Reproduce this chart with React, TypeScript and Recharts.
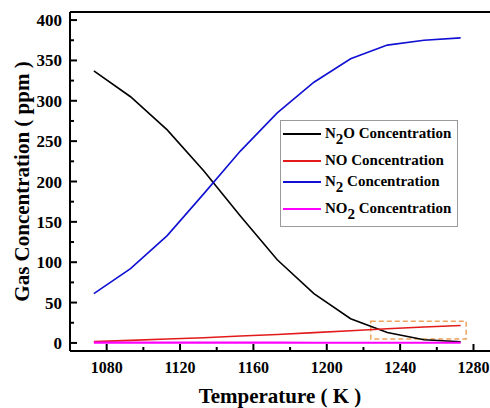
import React from 'react';
import { LineChart, Line, XAxis, YAxis, Legend, ReferenceArea, ReferenceLine } from 'recharts';

// Temperatures (K) and gas concentrations (ppm)
const temperatures = [1073, 1093, 1113, 1133, 1153, 1173, 1193, 1213, 1233, 1253, 1273];
const n2oValues = [337, 305, 264, 213, 157, 103, 61, 30, 13, 4, 1.5];
const noValues = [1.6, 3.2, 4.8, 6.5, 8.5, 10.5, 12.8, 15, 17.5, 19.8, 21.5];
const n2Values = [61, 92, 133, 185, 238, 285, 323, 352, 369, 375, 378];
const no2Values = [0.5, 0.4, 0.4, 0.3, 0.3, 0.3, 0.2, 0.2, 0.2, 0.2, 0.2];

const xTicks = [1060, 1080, 1100, 1120, 1140, 1160, 1180, 1200, 1220, 1240, 1260, 1280];
const yTicks = [0, 25, 50, 75, 100, 125, 150, 175, 200, 225, 250, 275, 300, 325, 350, 375, 400];

const series = [
  { key: 'n2o', name: 'N2O Concentration', color: '#000000', pre: 'N', sub: '2', post: 'O Concentration' },
  { key: 'no', name: 'NO Concentration', color: '#e31a1a', pre: 'NO Concentration', sub: '', post: '' },
  { key: 'n2', name: 'N2 Concentration', color: '#1010d4', pre: 'N', sub: '2', post: ' Concentration' },
  { key: 'no2', name: 'NO2 Concentration', color: '#ff00ff', pre: 'NO', sub: '2', post: ' Concentration' },
];

const data = temperatures.map((t, i) => ({
  t,
  n2o: n2oValues[i],
  no: noValues[i],
  n2: n2Values[i],
  no2: no2Values[i],
}));

const FONT = 'Liberation Serif';

const XTick = (props: any) => {
  const { x, y, payload } = props;
  const major = payload.value % 40 === 0;
  return (
    <g>
      <line x1={x} x2={x} y1={y} y2={y - (major ? 7 : 4)} stroke="#000" strokeWidth={2} />
      {major && (
        <text x={x} y={y + 22} textAnchor="middle" style={{ fontFamily: FONT, fontWeight: 'bold', fontSize: 16 }} fill="#000">
          {payload.value}
        </text>
      )}
    </g>
  );
};

const YTick = (props: any) => {
  const { x, y, payload } = props;
  const major = payload.value % 50 === 0;
  return (
    <g>
      <line x1={x} x2={x + (major ? 7 : 4)} y1={y} y2={y} stroke="#000" strokeWidth={2} />
      {major && (
        <text x={x - 8} y={y + 6} textAnchor="end" style={{ fontFamily: FONT, fontWeight: 'bold', fontSize: 17 }} fill="#000">
          {payload.value}
        </text>
      )}
    </g>
  );
};

const LegendBox = (props: any) => {
  const payload = props.payload || [];
  return (
    <div style={{ border: '1px solid #9a9a9a', background: '#fff', padding: '2px 6px 1px 2px', fontFamily: FONT, fontWeight: 'bold', fontSize: 15, color: '#000' }}>
      {series.map((s) => {
        const entry = payload.find((p: any) => p.dataKey === s.key);
        return (
          <div key={s.key} style={{ display: 'flex', alignItems: 'flex-start', height: s.sub ? 27 : 21 }}>
            <div style={{ height: 21, display: 'flex', alignItems: 'center' }}>
              <svg width={40} height={4} style={{ display: 'block' }}>
                <line x1={0} x2={38} y1={2} y2={2} stroke={entry ? entry.color : s.color} strokeWidth={2.2} />
              </svg>
            </div>
            <div style={{ lineHeight: '21px', whiteSpace: 'nowrap', marginLeft: 2, fontFamily: FONT }}>
              {s.pre}
              {s.sub && <span style={{ position: 'relative', top: 6 }}>{s.sub}</span>}
              {s.post}
            </div>
          </div>
        );
      })}
    </div>
  );
};

export default function App() {
  return (
    <div style={{ position: 'absolute', left: 0, top: 0, background: '#fff', fontFamily: FONT }}>
      <LineChart width={490} height={408} data={data} margin={{ top: 12, right: 0, bottom: 0, left: 0 }}>
        <XAxis
          dataKey="t"
          type="number"
          domain={[1060, 1289]}
          allowDataOverflow
          ticks={xTicks}
          interval={0}
          height={57}
          tickSize={0}
          tickMargin={0}
          tickLine={false}
          tick={<XTick />}
          axisLine={{ stroke: '#000', strokeWidth: 2 }}
          label={{
            value: 'Temperature ( K )',
            position: 'insideBottom',
            offset: 5,
            style: { fontFamily: FONT, fontWeight: 'bold', fontSize: 21, fill: '#000' },
          }}
        />
        <YAxis
          type="number"
          domain={[-10, 410]}
          allowDataOverflow
          ticks={yTicks}
          interval={0}
          width={70}
          tickSize={0}
          tickMargin={0}
          tickLine={false}
          tick={<YTick />}
          axisLine={{ stroke: '#000', strokeWidth: 2 }}
          label={{
            content: (p: any) => {
              const vb = p.viewBox || { x: 0, y: 12, width: 70, height: 339 };
              const cx = vb.x + 22;
              const cy = vb.y + vb.height / 2;
              return (
                <text
                  transform={`translate(${cx},${cy}) rotate(-90)`}
                  textAnchor="middle"
                  dominantBaseline="central"
                  style={{ fontFamily: FONT, fontWeight: 'bold', fontSize: 21 }}
                  fill="#000"
                >
                  Gas Concentration ( ppm )
                </text>
              );
            },
          }}
        />
        <ReferenceLine y={410} stroke="#000" strokeWidth={2} ifOverflow="extendDomain" />
        {series.map((s) => (
          <Line
            key={s.key}
            dataKey={s.key}
            name={s.name}
            type="linear"
            stroke={s.color}
            strokeWidth={s.key === 'no2' ? 2.2 : 1.6}
            dot={false}
            activeDot={false}
            isAnimationActive={false}
          />
        ))}
        <ReferenceArea
          x1={1224}
          x2={1276}
          y1={5}
          y2={27}
          fill="none"
          fillOpacity={0}
          stroke="#eea35e"
          strokeWidth={1.5}
          strokeDasharray="5 3"
        />
        <Legend
          layout="horizontal"
          verticalAlign="middle"
          align="center"
          content={<LegendBox />}
          wrapperStyle={{ top: 120, left: 280, width: 'auto' }}
        />
      </LineChart>
    </div>
  );
}
